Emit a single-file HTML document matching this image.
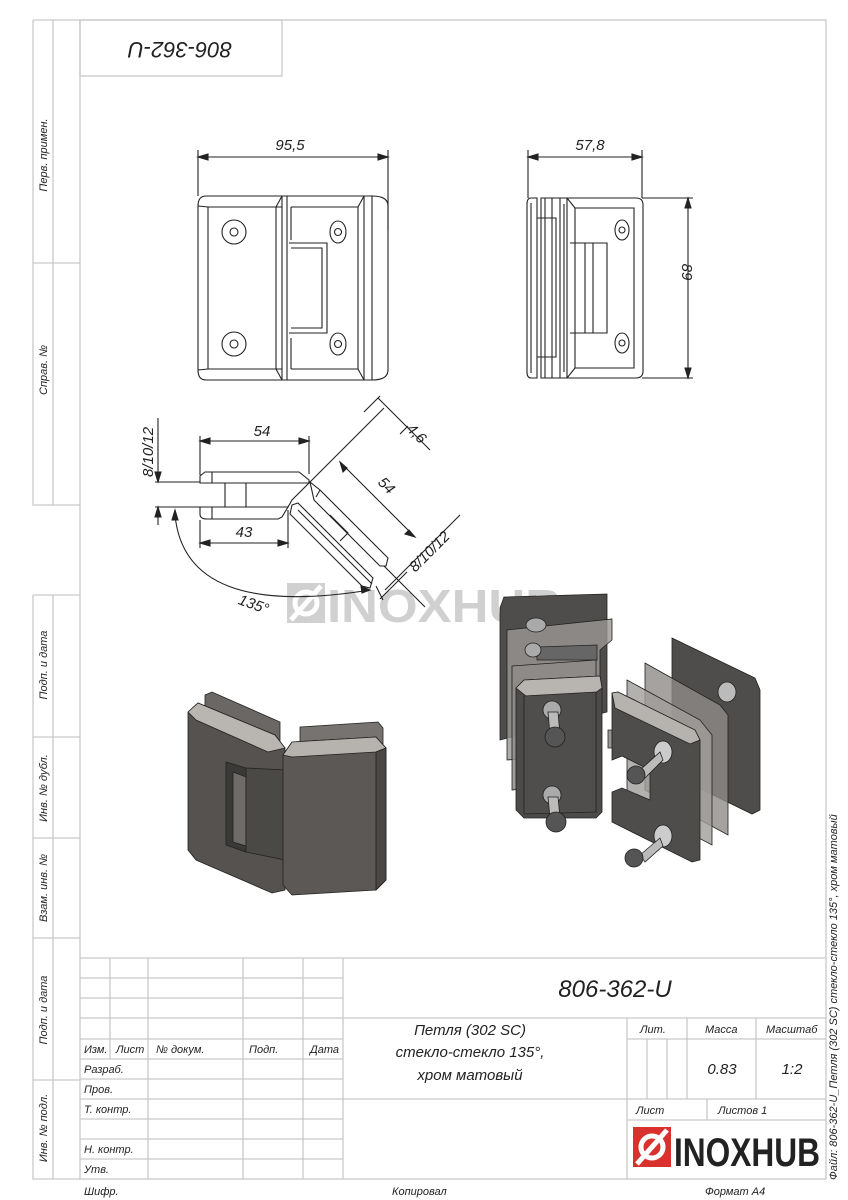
<!DOCTYPE html>
<html><head><meta charset="utf-8"><style>
html,body{margin:0;padding:0;background:#fff;}
svg{display:block;}
text{font-family:"Liberation Sans Narrow","Liberation Sans",sans-serif;font-style:italic;fill:#222;}
</style></head><body>
<svg width="848" height="1200" viewBox="0 0 848 1200" xmlns="http://www.w3.org/2000/svg">
<g stroke="#c9c9c9" stroke-width="1.3" fill="none">
  <rect x="80" y="20" width="746" height="1159"/>
  <rect x="80" y="20" width="202" height="56"/>
  <path d="M33 20 H80 M33 20 V505 H80 M53 20 V505 M33 263 H80"/>
  <path d="M33 595 H80 M33 595 V1179 H80 M53 595 V1179 M33 737 H80 M33 838 H80 M33 938 H80 M33 1080 H80"/>
  <path d="M80 958 H826 M343 958 V1179 M343 1018 H826 M627 1018 V1179 M627 1039 H826 M627 1099 H826 M627 1120 H826 M343 1099 H627"/>
  <path d="M647 1039 V1099 M667 1039 V1099 M687 1018 V1099 M756 1018 V1099 M707 1099 V1120"/>
  <path d="M80 978 H343 M80 998 H343 M80 1018 H343 M80 1039 H343 M80 1059 H343 M80 1079 H343 M80 1099 H343 M80 1119 H343 M80 1139 H343 M80 1159 H343"/>
  <path d="M110 958 V1059 M148 958 V1179 M243 958 V1179 M303 958 V1179"/>
</g>
<text x="180" y="50" font-size="22" text-anchor="middle" transform="rotate(180 180 50) translate(0 8)">806-362-U</text>
<g font-size="11">
<text transform="translate(47 155) rotate(-90)" text-anchor="middle">Перв. примен.</text>
<text transform="translate(47 370) rotate(-90)" text-anchor="middle">Справ. №</text>
<text transform="translate(47 665) rotate(-90)" text-anchor="middle">Подп. и дата</text>
<text transform="translate(47 788) rotate(-90)" text-anchor="middle">Инв. № дубл.</text>
<text transform="translate(47 888) rotate(-90)" text-anchor="middle">Взам. инв. №</text>
<text transform="translate(47 1010) rotate(-90)" text-anchor="middle">Подп. и дата</text>
<text transform="translate(47 1128) rotate(-90)" text-anchor="middle">Инв. № подл.</text>
<text transform="translate(837 1180) rotate(-90)">Файл: 806-362-U_Петля (302 SC) стекло-стекло 135°, хром матовый</text>
<text x="84" y="1053">Изм.</text><text x="116" y="1053">Лист</text><text x="156" y="1053">№ докум.</text><text x="249" y="1053">Подп.</text><text x="310" y="1053">Дата</text>
<text x="84" y="1073">Разраб.</text><text x="84" y="1093">Пров.</text><text x="84" y="1113">Т. контр.</text><text x="84" y="1153">Н. контр.</text><text x="84" y="1173">Утв.</text>
<text x="84" y="1195">Шифр.</text><text x="392" y="1195">Копировал</text><text x="705" y="1195">Формат А4</text>
<text x="640" y="1033">Лит.</text><text x="705" y="1033">Масса</text><text x="766" y="1033">Масштаб</text>
<text x="636" y="1114">Лист</text><text x="718" y="1114">Листов 1</text>
</g>
<text x="615" y="997" font-size="24" text-anchor="middle">806-362-U</text>
<g font-size="15" text-anchor="middle">
<text x="470" y="1035">Петля (302 SC)</text>
<text x="470" y="1057">стекло-стекло 135°,</text>
<text x="470" y="1080">хром матовый</text>
<text x="722" y="1074">0.83</text><text x="792" y="1074">1:2</text>
</g>
<rect x="633" y="1127" width="38" height="40" fill="#d9322e"/>
<circle cx="652" cy="1147" r="11" fill="none" stroke="#fff" stroke-width="5"/>
<path d="M637 1164 L667 1130" stroke="#fff" stroke-width="5"/>
<text x="674" y="1166" font-size="40" font-weight="bold" textLength="146" lengthAdjust="spacingAndGlyphs" style="font-family:'Liberation Sans',sans-serif;font-style:normal;fill:#222">INOXHUB</text>

<g opacity="0.55">
<rect x="287" y="583" width="38" height="40" fill="#aaa"/>
<circle cx="306" cy="603" r="11" fill="none" stroke="#fff" stroke-width="5"/>
<path d="M291 620 L321 586" stroke="#fff" stroke-width="5"/>
<text x="327" y="622" font-size="46" font-weight="bold" textLength="235" lengthAdjust="spacingAndGlyphs" style="font-family:'Liberation Sans',sans-serif;font-style:normal;fill:#aaa">INOXHUB</text>
</g>

<g stroke="#222" stroke-width="1.1" fill="none">
  <path d="M198 157 H388 M198 150 V196 M388 150 V230"/>
  <path d="M198 157 l10 -3 v6 z M388 157 l-10 -3 v6 z" fill="#222"/>
  <path d="M206 196 H372 Q388 196 388 206 V370 Q388 380 372 380 H206 Q198 380 198 370 V206 Q198 196 206 196 Z"/>
  <path d="M208 207 H282 M208 369 H282 M208 207 V369 M198 206 L208 207 M198 370 L208 369 M282 196 L276 207 V369 L282 380"/>
  <path d="M282 196 V380 M287 196 V380 M291 207 V240 M291 338 V369"/>
  <path d="M291 207 H358 L364 196 M291 369 H358 L364 380 M358 207 V369 M364 196 V380 M372 196 V380"/>
  <path d="M289 243 H327 V333 H289 M291 248 H322 V328 H291 M322 248 V328"/>
  <circle cx="234" cy="232" r="12"/><circle cx="234" cy="232" r="4"/>
  <circle cx="234" cy="344" r="12"/><circle cx="234" cy="344" r="4"/>
  <ellipse cx="338" cy="232" rx="8" ry="11"/><circle cx="338" cy="232" r="3.5"/>
  <ellipse cx="338" cy="344" rx="8" ry="11"/><circle cx="338" cy="344" r="3.5"/>
</g>
<text x="290" y="150" font-size="15" text-anchor="middle">95,5</text>

<g stroke="#222" stroke-width="1.1" fill="none">
  <path d="M528 157 H642 M528 150 V198 M642 150 V198"/>
  <path d="M528 157 l10 -3 v6 z M642 157 l-10 -3 v6 z" fill="#222"/>
  <path d="M642 198 H693 M642 378 H693 M688 198 V378"/>
  <path d="M688 198 l-3 10 h6 z M688 378 l-3 -10 h6 z" fill="#222"/>
  <path d="M531 198 H537 V378 H531 Q527 378 527 372 V204 Q527 198 531 198 Z M531 203 V373"/>
  <path d="M541 198 H560 V378 H541 Z M545 198 V378 M552 198 V378 M537 218 H556 V357 H537"/>
  <path d="M560 198 H567 V378 H560 M564 204 V372"/>
  <path d="M567 198 H636 Q643 198 643 205 V371 Q643 378 636 378 H567 M575 208 H634 V368 H575 V208 M567 198 L575 208 M567 378 L575 368"/>
  <path d="M570 243 H607 V333 H570 M585 243 V333 M593 243 V333"/>
  <ellipse cx="622" cy="230" rx="7" ry="10"/><circle cx="622" cy="230" r="3"/>
  <ellipse cx="622" cy="343" rx="7" ry="10"/><circle cx="622" cy="343" r="3"/>
</g>
<text transform="translate(682 272) rotate(90)" font-size="15" text-anchor="middle">89</text>
<text x="590" y="150" font-size="15" text-anchor="middle">57,8</text>

<g stroke="#222" stroke-width="1.1" fill="none">
  <path d="M200 441 H309 M200 436 V475 M309 436 V474"/>
  <path d="M200 441 l10 -3 v6 z M309 441 l-10 -3 v6 z" fill="#222"/>
  <path d="M205 472 H299 L309 480 V483 H200 V476 Z M212 472 V483"/>
  <path d="M225 483 V507 H246 V483"/>
  <path d="M200 507 H288 L282 517 L278 519 H207 Q200 519 200 514 Z M212 507 V519"/>
  <path d="M200 520 V548 M288 510 V548 M200 543 H288"/>
  <path d="M200 543 l10 -3 v6 z M288 543 l-10 -3 v6 z" fill="#222"/>
  <path d="M158 418 V475 M158 510 V525 M155 482 H200 M155 507 H200"/>
  <path d="M158 482 l-3 -10 h6 z M158 507 l-3 10 h6 z" fill="#222"/>
  <path d="M310 482 L384 408 M288 507 L292 500 L310 482"/>
  <path d="M310 482 L320 490 L388 558 L386 566 L380 566 L314 500 Z M320 490 L316 497"/>
  <path d="M292 505 L298 503 L373 578 L370 588 L362 586 L290 514 Z M298 510 L372 584"/>
  <path d="M330 515 L348 533 L340 541"/>
  <path d="M340 462 L415 537 M378 398 L430 450 M364 412 L380 396 M400 434 L408 426"/>
  <path d="M340 462 l3 10 l4 -4 z M415 537 l-10 -3 l4 -4 z" fill="#222"/>
  <path d="M384 566 L425 607 M376 586 L383 600 M385 590 L460 515 M380 599 L407 572"/>
  <path d="M175 515 Q185 620 370 590"/>
  <path d="M175 510 l-3 10 l6 0 z M370 590 l-9 -4 l1 7 z" fill="#222"/>
</g>
<text x="262" y="436" font-size="15" text-anchor="middle">54</text>
<text x="244" y="537" font-size="15" text-anchor="middle">43</text>
<text transform="translate(153 452) rotate(-90)" font-size="15" text-anchor="middle">8/10/12</text>
<text transform="translate(383 489) rotate(45)" font-size="15" text-anchor="middle">54</text>
<text transform="translate(413 437) rotate(45)" font-size="15" text-anchor="middle">4,6</text>
<text transform="translate(433 555) rotate(-45)" font-size="15" text-anchor="middle">8/10/12</text>
<text transform="translate(252 609) rotate(20)" font-size="15" text-anchor="middle">135°</text>

<g stroke="#222" stroke-width="0.8">
  <path d="M205 695 L212 692 L280 722 L280 745 L205 716 Z" fill="#6a6764"/>
  <path d="M300 727 L378 722 L383 728 L383 748 L300 752 Z" fill="#777370"/>
  <path d="M188 712 L198 703 L275 735 L285 748 L285 890 L272 893 L196 860 L188 850 Z" fill="#55524f"/>
  <path d="M188 712 L198 703 L275 735 L285 748 L268 752 L196 720 Z" fill="#b9b6b2"/>
  <path d="M226 762 L246 768 L246 852 L226 845 Z" fill="#3b3937"/>
  <path d="M233 772 L246 777 L246 846 L233 842 Z" fill="#6e6b68"/>
  <path d="M246 768 L285 770 L285 860 L246 852 Z" fill="#4b4946"/>
  <path d="M283 755 L292 742 L376 737 L386 748 L386 880 L376 890 L292 895 L283 885 Z" fill="#5b5855"/>
  <path d="M283 755 L292 742 L376 737 L386 748 L376 752 L292 757 Z" fill="#b6b3af"/>
  <path d="M376 752 L386 748 L386 880 L376 890 Z" fill="#4a4745"/>
</g>

<g stroke="#222" stroke-width="0.8">
  <path d="M504 597 L607 594 L607 712 L500 740 L500 608 Z" fill="#4f4d4b"/>
  <path d="M507 630 L612 619 L612 640 L600 650 L600 752 L507 760 Z" fill="#9a9794" fill-opacity="0.8"/>
  <ellipse cx="536" cy="625" rx="10" ry="7" fill="#aaa"/>
  <path d="M537 647 L597 645 L597 660 L537 660 Z" fill="#666"/>
  <ellipse cx="533" cy="650" rx="8" ry="7" fill="#aaa"/>
  <path d="M512 666 L596 660 L596 780 L512 790 Z" fill="#8e8b88" fill-opacity="0.85"/>
  <path d="M608 730 L612 730 L612 748 L608 748 Z" fill="#999"/>
  <path d="M516 688 L524 680 L600 676 L602 688 L602 812 L596 818 L524 818 L516 810 Z" fill="#4d4b49"/>
  <path d="M516 688 L524 680 L600 676 L602 688 L594 694 L526 696 Z" fill="#b8b5b1"/>
  <path d="M524 696 L596 692 L596 812 L524 814 Z" fill="#504e4c"/>
  <ellipse cx="552" cy="710" rx="9" ry="9" fill="#aaa"/>
  <path d="M548 712 L558 712 L560 735 L550 735 Z" fill="#bbb"/>
  <circle cx="555" cy="737" r="10" fill="#555"/>
  <ellipse cx="552" cy="795" rx="9" ry="9" fill="#aaa"/>
  <path d="M548 797 L558 797 L560 818 L550 818 Z" fill="#bbb"/>
  <circle cx="556" cy="822" r="10" fill="#555"/>
  <path d="M672 638 L755 678 L760 690 L760 810 L752 814 L672 775 Z" fill="#4f4d4b"/>
  <path d="M645 663 L720 705 L728 715 L728 835 L645 790 Z" fill="#8e8b88" fill-opacity="0.8"/>
  <path d="M627 680 L700 720 L712 735 L712 845 L627 800 Z" fill="#a09d9a" fill-opacity="0.8"/>
  <ellipse cx="727" cy="692" rx="9" ry="10" fill="#bbb"/>
  <path d="M612 693 L618 692 L695 730 L700 740 L700 860 L692 862 L612 822 L612 792 L622 788 L650 800 L650 770 L622 756 L612 760 Z" fill="#4f4d4b"/>
  <path d="M612 693 L618 692 L695 730 L700 740 L690 744 L615 708 Z" fill="#b6b3af"/>
  <ellipse cx="663" cy="752" rx="9" ry="11" fill="#ccc"/>
  <ellipse cx="663" cy="836" rx="9" ry="11" fill="#ccc"/>
  <path d="M640 770 L660 752 L663 760 L645 778 Z" fill="#bbb"/>
  <circle cx="636" cy="775" r="9" fill="#555"/>
  <path d="M640 855 L660 838 L663 846 L645 862 Z" fill="#bbb"/>
  <circle cx="634" cy="858" r="9" fill="#555"/>
</g>
</svg>
</body></html>
